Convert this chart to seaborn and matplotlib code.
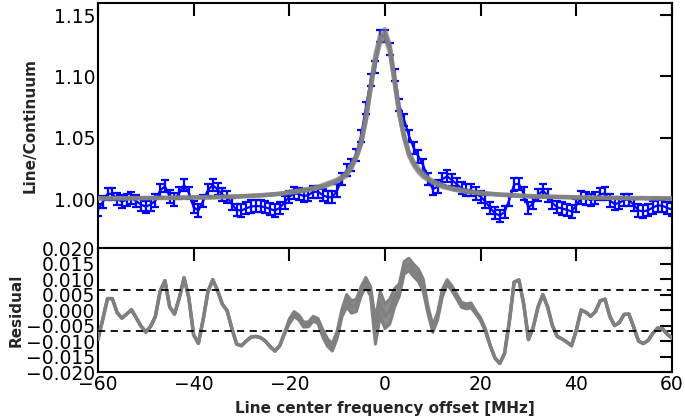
import numpy as np
import matplotlib
matplotlib.use("Agg")
import matplotlib.pyplot as plt
import seaborn as sns

# ---- data ----
freq = list(range(-60, 61))  # MHz

data = [
    0.9910, 0.9975, 1.0042, 1.0043, 0.9998, 0.9980, 0.9993, 1.0008, 0.9982, 0.9955,
    0.9937, 0.9955, 0.9987, 1.0070, 1.0104, 1.0020, 0.9997, 1.0050, 1.0115, 1.0051,
    0.9933, 0.9906, 0.9984, 1.0074, 1.0113, 1.0079, 1.0036, 1.0016, 0.9959, 0.9910,
    0.9907, 0.9924, 0.9939, 0.9943, 0.9941, 0.9933, 0.9918, 0.9907, 0.9928, 0.9972,
    1.0018, 1.0047, 1.0041, 1.0024, 1.0032, 1.0058, 1.0060, 1.0031, 1.0015, 1.0014,
    1.0070, 1.0165, 1.0235, 1.0275, 1.0362, 1.0515, 1.0740, 1.0970, 1.1080, 1.1330,
    1.1330,
    1.1225, 1.1009, 1.0765, 1.0646, 1.0517, 1.0418, 1.0347, 1.0275, 1.0165, 1.0080,
    1.0102, 1.0162, 1.0185, 1.0155, 1.0121, 1.0087, 1.0075, 1.0073, 1.0045, 1.0019,
    0.9980, 0.9927, 0.9884, 0.9864, 0.9894, 0.9994, 1.0119, 1.0124, 1.0045, 0.9928,
    0.9967, 1.0031, 1.0070, 1.0029, 0.9968, 0.9932, 0.9923, 0.9912, 0.9899, 0.9948,
    1.0012, 1.0005, 0.9991, 1.0006, 1.0040, 1.0045, 0.9989, 0.9959, 0.9968, 0.9994,
    0.9995, 0.9952, 0.9907, 0.9899, 0.9908, 0.9931, 0.9948, 0.9945, 0.9927, 0.9915,
]

data_err = [0.005] * len(freq)

model = [
    1.0005, 1.0005, 1.0005, 1.0006, 1.0006, 1.0006, 1.0006, 1.0007, 1.0007, 1.0007,
    1.0008, 1.0008, 1.0008, 1.0009, 1.0009, 1.0010, 1.0010, 1.0011, 1.0011, 1.0012,
    1.0013, 1.0013, 1.0014, 1.0014, 1.0015, 1.0016, 1.0017, 1.0018, 1.0019, 1.0020,
    1.0022, 1.0024, 1.0026, 1.0028, 1.0030, 1.0033, 1.0036, 1.0039, 1.0043, 1.0047,
    1.0055, 1.0060, 1.0065, 1.0071, 1.0078, 1.0086, 1.0095, 1.0106, 1.0120, 1.0134,
    1.0150, 1.0175, 1.0205, 1.0265, 1.0347, 1.0455, 1.0650, 1.0910, 1.1150, 1.1310,
    1.1350,
    1.1230, 1.0970, 1.0700, 1.0510, 1.0370, 1.0290, 1.0235, 1.0195, 1.0165, 1.0140,
    1.0122, 1.0107, 1.0095, 1.0085, 1.0077, 1.0070, 1.0063, 1.0058, 1.0053, 1.0049,
    1.0045, 1.0042, 1.0039, 1.0036, 1.0034, 1.0031, 1.0029, 1.0027, 1.0025, 1.0023,
    1.0022, 1.0021, 1.0020, 1.0019, 1.0018, 1.0017, 1.0016, 1.0015, 1.0014, 1.0013,
    1.0012, 1.0012, 1.0011, 1.0011, 1.0010, 1.0010, 1.0009, 1.0009, 1.0008, 1.0008,
    1.0008, 1.0007, 1.0007, 1.0007, 1.0006, 1.0006, 1.0006, 1.0005, 1.0005, 1.0005,
]

residual = [
    -0.0095, -0.0030, 0.0037, 0.0037, -0.0008, -0.0026, -0.0013, 0.0001, -0.0025, -0.0052,
    -0.0071, -0.0053, -0.0021, 0.0061, 0.0095, 0.0010, -0.0013, 0.0039, 0.0104, 0.0039,
    -0.0080, -0.0107, -0.0030, 0.0060, 0.0098, 0.0063, 0.0019, -0.0002, -0.0060, -0.0110,
    -0.0115, -0.0100, -0.0087, -0.0085, -0.0089, -0.0100, -0.0118, -0.0132, -0.0115, -0.0075,
    -0.0037, -0.0013, -0.0024, -0.0047, -0.0046, -0.0028, -0.0035, -0.0075, -0.0105, -0.0120,
    -0.0080, -0.0010, 0.0030, 0.0010, 0.0015, 0.0060, 0.0090, 0.0060, -0.0070, 0.0020,
    -0.0020,
    -0.0005, 0.0039, 0.0065, 0.0136, 0.0147, 0.0128, 0.0112, 0.0080, 0.0000, -0.0060,
    -0.0020, 0.0055, 0.0090, 0.0070, 0.0044, 0.0017, 0.0012, 0.0015, -0.0008, -0.0030,
    -0.0065, -0.0115, -0.0155, -0.0172, -0.0140, -0.0037, 0.0090, 0.0097, 0.0020, -0.0095,
    -0.0055, 0.0010, 0.0050, 0.0010, -0.0050, -0.0085, -0.0093, -0.0103, -0.0115, -0.0065,
    0.0000, -0.0007, -0.0020, -0.0005, 0.0030, 0.0035, -0.0020, -0.0050, -0.0040, -0.0014,
    -0.0013, -0.0055, -0.0100, -0.0108, -0.0098, -0.0075, -0.0058, -0.0060, -0.0078, -0.0090,
]

# half-width of the spread of the model samples
spread = [
    0, 0, 0, 0, 0, 0, 0, 0, 0, 0,
    0, 0, 0, 0, 0, 0, 0, 0, 0, 0,
    0, 0, 0, 0, 0, 0, 0, 0, 0, 0,
    0, 0, 0, 0, 0, 0, 0, 0, 0, 0,
    0.0008, 0.0008, 0.0008, 0.0008, 0.0008, 0.0008, 0.0008, 0.0012, 0.0012, 0.0012,
    0.0012, 0.0012, 0.0020, 0.0020, 0.0020, 0.0015, 0.0015, 0.0015, 0.0040, 0.0040,
    0.0040,
    0.0040, 0.0030, 0.0020, 0.0020, 0.0020, 0.0020, 0.0020, 0.0020, 0.0012, 0.0012,
    0.0012, 0.0012, 0.0008, 0.0008, 0.0008, 0.0008, 0.0008, 0.0008, 0.0005, 0.0005,
    0.0005, 0, 0, 0, 0, 0, 0, 0, 0, 0,
    0, 0, 0, 0, 0, 0, 0, 0, 0, 0,
    0, 0, 0, 0, 0, 0, 0, 0, 0, 0,
    0, 0, 0, 0, 0, 0, 0, 0, 0, 0,
]

resid_limits = [0.0066, -0.0067]

top_yticks = [1.00, 1.05, 1.10, 1.15]
bot_yticks = [0.020, 0.015, 0.010, 0.005, 0.000, -0.005, -0.010, -0.015, -0.020]
xticks = [-60, -40, -20, 0, 20, 40, 60]

# ---- plotting ----
sns.set_style("white")
plt.rcParams["font.family"] = ["DejaVu Sans"]
plt.rcParams["axes.unicode_minus"] = True

fig = plt.figure(figsize=(6.85, 4.19), dpi=100)
ax1 = fig.add_axes([0.143, 0.408, 0.838, 0.585])
ax2 = fig.add_axes([0.143, 0.112, 0.838, 0.296], sharex=ax1)

f = np.array(freq)
d = np.array(data)
m = np.array(model)
r = np.array(residual)
s = np.array(spread)

# top panel
ax1.errorbar(f, d, yerr=data_err, fmt="none", ecolor="#0000ff",
             elinewidth=1.6, capsize=3, capthick=1.6, zorder=2)
sns.lineplot(x=f, y=d, ax=ax1, color="#0000ff", lw=1.6, zorder=2)
ax1.fill_between(f, m - s, m + s, color="#808080", alpha=0.55, lw=0, zorder=3)
sns.lineplot(x=f, y=m - s, ax=ax1, color="#808080", lw=2.8, alpha=0.6, zorder=3)
sns.lineplot(x=f, y=m + s, ax=ax1, color="#808080", lw=2.8, alpha=0.6, zorder=3)
sns.lineplot(x=f, y=m, ax=ax1, color="#808080", lw=3.4, alpha=0.85, zorder=4)

ax1.set_xlim(-60, 60)
ax1.set_ylim(0.96, 1.16)
ax1.set_yticks(top_yticks)
ax1.set_yticklabels([f"{v:.2f}" for v in top_yticks])
ax1.set_ylabel("Line/Continuum", fontweight="bold", fontsize=11)
plt.setp(ax1.get_xticklabels(), visible=False)

# bottom panel
ax2.fill_between(f, r - s, r + s, color="#808080", alpha=0.9, lw=0, zorder=3)
sns.lineplot(x=f, y=r - s, ax=ax2, color="#808080", lw=2.2, zorder=3)
sns.lineplot(x=f, y=r + s, ax=ax2, color="#808080", lw=2.2, zorder=3)
sns.lineplot(x=f, y=r, ax=ax2, color="#808080", lw=2.6, zorder=3)
for lim in resid_limits:
    ax2.axhline(lim, color="black", ls="--", lw=1.3, dashes=(4, 3), zorder=4)

ax2.set_ylim(-0.02, 0.02)
ax2.set_yticks(bot_yticks)
ax2.set_yticklabels([f"{v:.3f}".replace("-", "\u2212") for v in bot_yticks])
ax2.set_xticks(xticks)
ax2.set_xticklabels([str(v).replace("-", "\u2212") for v in xticks])
ax2.set_ylabel("Residual", fontweight="bold", fontsize=11)
ax2.set_xlabel("Line center frequency offset [MHz]", fontweight="bold", fontsize=11)

for ax in (ax1, ax2):
    ax.tick_params(direction="in", length=9, width=1.5, top=True, right=True,
                   labelsize=13.5, colors="black", pad=2)
    for sp in ax.spines.values():
        sp.set_color("black")
        sp.set_linewidth(1.5)
        sp.set_visible(True)

ax1.yaxis.set_label_coords(-0.105, 0.5)
ax2.yaxis.set_label_coords(-0.13, 0.5)
ax2.xaxis.set_label_coords(0.5, -0.235)

fig.savefig("out.png", dpi=100)
